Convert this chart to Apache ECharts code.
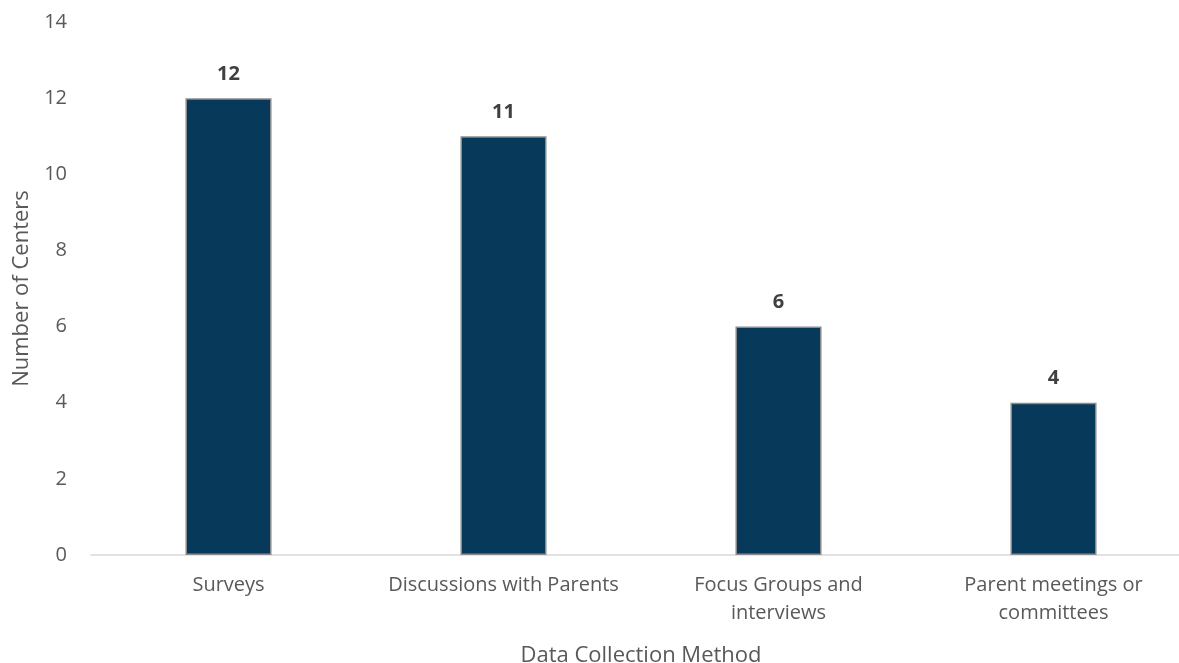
<!DOCTYPE html>
<html>
<head>
<meta charset="utf-8">
<script src="https://cdn.jsdelivr.net/npm/echarts@6/dist/echarts.min.js"></script>
<style>
  html, body { margin: 0; padding: 0; background: #fff; }
  #chart { width: 1179px; height: 663px; }
</style>
</head>
<body>
<div id="chart"></div>
<script>
  const categories = ['Surveys', 'Discussions with Parents', 'Focus Groups and\ninterviews', 'Parent meetings or\ncommittees']
  const centers = [12, 11, 6, 4]
  const yTicks = { min: 0, max: 14, interval: 2 }

  const font = '"Open Sans", "Noto Sans", sans-serif'
  const chart = echarts.init(document.getElementById('chart'))

  // the source chart is cut off on the right, so the plot runs past the canvas
  chart.setOption({
    animation: false,
    textStyle: { fontFamily: font },
    grid: { left: 91, top: 22, width: 1100, height: 533, outerBoundsMode: 'none', containLabel: false },
    xAxis: {
      type: 'category',
      data: categories,
      name: 'Data Collection Method',
      nameLocation: 'middle',
      nameGap: 90,
      nameTextStyle: { fontSize: 22, color: '#595959', fontFamily: font },
      axisLine: { lineStyle: { color: '#d9d9d9', width: 1.5 } },
      axisTick: { show: false },
      axisLabel: { interval: 0, hideOverlap: false, fontSize: 20, color: '#595959', lineHeight: 28, margin: 16, fontFamily: font }
    },
    yAxis: {
      type: 'value',
      min: yTicks.min,
      max: yTicks.max,
      interval: yTicks.interval,
      name: 'Number of Centers',
      nameLocation: 'middle',
      nameGap: 51,
      nameTextStyle: { fontSize: 22, color: '#595959', fontFamily: font },
      axisLine: { show: false },
      axisTick: { show: false },
      splitLine: { show: false },
      axisLabel: { fontSize: 20, color: '#595959', margin: 24, fontFamily: font }
    },
    series: [
      {
        type: 'bar',
        data: centers,
        barWidth: '31.3%',
        itemStyle: { color: '#073a5a', borderColor: '#8c8c8c', borderWidth: 1.5 },
        label: {
          show: true,
          position: 'top',
          distance: 14,
          fontSize: 20,
          fontWeight: 'bold',
          color: '#404040',
          fontFamily: font
        }
      }
    ]
  })
</script>
</body>
</html>
